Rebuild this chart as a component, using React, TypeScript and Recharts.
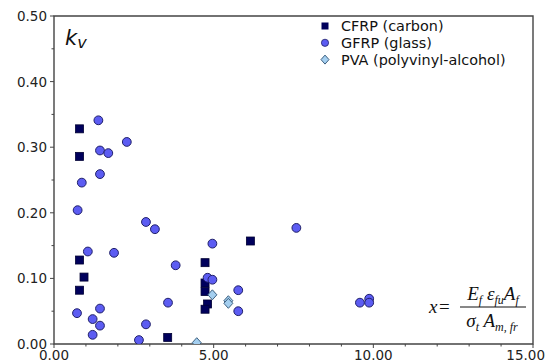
import { ScatterChart, Scatter, XAxis, YAxis, ReferenceArea, Legend } from 'recharts';

// [x, kv]
const cfrp = [
  [0.80, 0.328], [0.80, 0.286], [0.80, 0.128], [0.94, 0.102], [0.80, 0.082],
  [3.56, 0.010], [4.73, 0.124], [4.73, 0.093], [4.73, 0.080], [4.81, 0.061],
  [4.73, 0.053], [6.15, 0.157]
];
const gfrp = [
  [1.39, 0.341], [1.44, 0.295], [1.70, 0.291], [2.28, 0.308], [1.44, 0.259],
  [0.87, 0.246], [0.74, 0.204], [2.88, 0.186], [3.16, 0.175], [1.06, 0.141],
  [1.88, 0.139], [3.81, 0.120], [0.72, 0.047], [1.44, 0.054], [1.21, 0.038],
  [1.44, 0.028], [1.21, 0.014], [2.88, 0.030], [2.66, 0.006], [3.57, 0.063],
  [4.96, 0.153], [7.59, 0.177], [4.81, 0.101], [4.96, 0.098], [5.77, 0.082],
  [5.77, 0.050], [9.58, 0.063], [9.87, 0.069], [9.87, 0.063]
];
const pva = [[4.96, 0.075], [5.46, 0.066], [5.46, 0.062], [4.47, 0.002]];

const xTicks = [0, 1, 2, 3, 4, 5, 6, 7, 8, 9, 10, 11, 12, 13, 14, 15];
const xMajor = [0, 5, 10, 15];
const yTicks = [0, 0.05, 0.1, 0.15, 0.2, 0.25, 0.3, 0.35, 0.4, 0.45, 0.5];
const yMajor = [0, 0.1, 0.2, 0.3, 0.4, 0.5];

const toPts = (arr: number[][]) => arr.map(([x, y]) => ({ x, y }));

const axisColor = '#444';
const tickFont = { fontFamily: 'DejaVu Sans', fontSize: 13.5, fill: '#222' };

const XTick = ({ x, y, payload }: any) => {
  const major = xMajor.includes(payload.value);
  // last label would run off the page edge, so pin it to the right
  const last = payload.value === xMajor[xMajor.length - 1];
  return (
    <g>
      <line x1={x} x2={x} y1={y} y2={y + (major ? 4 : 2.5)} stroke={axisColor} />
      {major && (
        <text x={last ? x + 12 : x} y={y + 16} textAnchor={last ? 'end' : 'middle'} {...tickFont}>
          {payload.value.toFixed(2)}
        </text>
      )}
    </g>
  );
};

const YTick = ({ x, y, payload }: any) => {
  const major = yMajor.some(v => Math.abs(v - payload.value) < 1e-9);
  return (
    <g>
      <line x1={x - (major ? 4 : 2.5)} x2={x} y1={y} y2={y} stroke={axisColor} />
      {major && <text x={x - 7} y={y + 5} textAnchor="end" {...tickFont}>{payload.value.toFixed(2)}</text>}
    </g>
  );
};

const Square = (p: any) => (
  <rect x={p.cx - 4} y={p.cy - 4} width={8} height={8} fill="#00005c" stroke="#000033" strokeWidth={0.8} />
);
const Dot = (p: any) => (
  <circle cx={p.cx} cy={p.cy} r={4.4} fill="#5c5cf2" stroke="#20206a" strokeWidth={1} />
);
const Diamond = (p: any) => (
  <polygon
    points={`${p.cx},${p.cy - 5} ${p.cx + 4.5},${p.cy} ${p.cx},${p.cy + 5} ${p.cx - 4.5},${p.cy}`}
    fill="#a4cff0" stroke="#3d6080" strokeWidth={1}
  />
);

const LegendBox = ({ payload }: any) => (
  <svg width={230} height={56} style={{ display: 'block' }}>
    {(payload || []).map((p: any, i: number) => {
      const cy = 8 + i * 16.8;
      const cx = 7;
      let mark;
      if (p.type === 'square') mark = <rect x={cx - 3.5} y={cy - 3.5} width={7} height={7} fill="#00005c" />;
      else if (p.type === 'circle') mark = <circle cx={cx} cy={cy} r={3.6} fill="#5c5cf2" stroke="#20206a" strokeWidth={0.8} />;
      else mark = <polygon points={`${cx},${cy - 4.5} ${cx + 4},${cy} ${cx},${cy + 4.5} ${cx - 4},${cy}`} fill="#a4cff0" stroke="#3d6080" />;
      return (
        <g key={i}>
          {mark}
          <text x={23} y={cy + 5.1} fontFamily="DejaVu Sans" fontSize={14.4} fill="#111">{p.value}</text>
        </g>
      );
    })}
  </svg>
);

const sub = { fontSize: 12 };

export default function App() {
  return (
    <div style={{ position: 'absolute', left: 0, top: 0, width: 546, height: 363, background: '#fff' }}>
      <ScatterChart width={546} height={363} margin={{ top: 16, right: 13, bottom: 0, left: 0 }}>
        <XAxis type="number" dataKey="x" domain={[0, 15]} ticks={xTicks} interval={0} height={19}
          tickSize={0} tickMargin={0} tick={<XTick />} axisLine={false} allowDataOverflow />
        <YAxis type="number" dataKey="y" domain={[0, 0.5]} ticks={yTicks} interval={0} width={54}
          tickSize={0} tickMargin={0} tick={<YTick />} axisLine={false} allowDataOverflow />
        <ReferenceArea x1={0} x2={15} y1={0} y2={0.5} fill="none" fillOpacity={0} stroke={axisColor} strokeWidth={1.4} />
        <Legend layout="vertical" align="center" verticalAlign="middle" content={<LegendBox />}
          wrapperStyle={{ position: 'absolute', left: 318, top: 18, width: 230, height: 56 }} />
        <Scatter name="CFRP (carbon)" data={toPts(cfrp)} legendType="square" fill="#00005c" shape={Square} isAnimationActive={false} />
        <Scatter name="GFRP (glass)" data={toPts(gfrp)} legendType="circle" fill="#5c5cf2" shape={Dot} isAnimationActive={false} />
        <Scatter name="PVA (polyvinyl-alcohol)" data={toPts(pva)} legendType="diamond" fill="#a4cff0" shape={Diamond} isAnimationActive={false} />
      </ScatterChart>
      <svg width={546} height={363} style={{ position: 'absolute', left: 0, top: 0, pointerEvents: 'none' }}>
        <text x={65} y={45} fontFamily="DejaVu Sans" fontStyle="italic" fontSize={21} fill="#111">
          k<tspan fontSize={16} dy={3}>v</tspan>
        </text>
        <g fontFamily="Liberation Serif" fontStyle="italic" fontSize={19} fill="#111">
          <text x={429} y={313}>x</text>
          <text x={439} y={313} fontStyle="normal">=</text>
          <text x={493} y={300} textAnchor="middle">
            E<tspan {...sub} dy={4}>f</tspan><tspan dy={-4}> ε</tspan><tspan {...sub} dy={4}>fu</tspan><tspan dy={-4}>A</tspan><tspan {...sub} dy={4}>f</tspan>
          </text>
          <line x1={460} x2={526} y1={307} y2={307} stroke="#111" strokeWidth={1} />
          <text x={492} y={327} textAnchor="middle">
            σ<tspan {...sub} dy={4}>t</tspan><tspan dy={-4}> A</tspan><tspan {...sub} dy={4}>m, fr</tspan>
          </text>
        </g>
      </svg>
    </div>
  );
}
